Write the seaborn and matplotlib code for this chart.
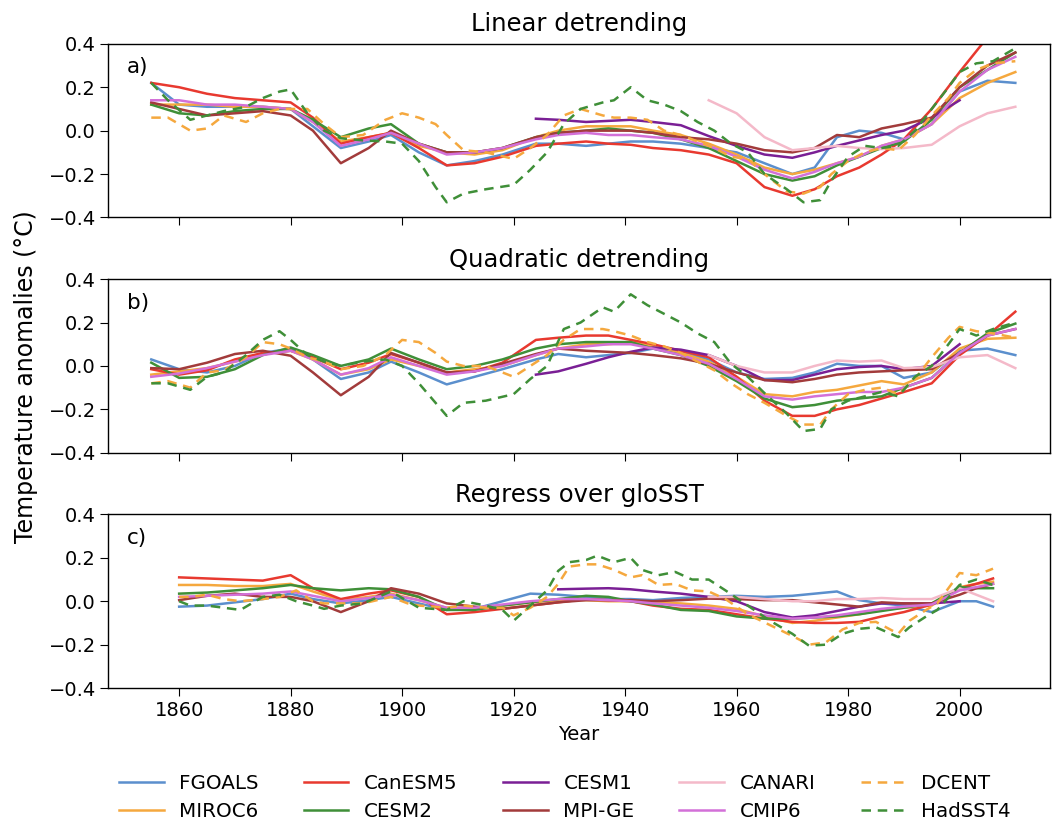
import numpy as np
import pandas as pd
import matplotlib
matplotlib.use("Agg")
import matplotlib.pyplot as plt
import seaborn as sns

nan = np.nan

# -------------------------------
# Years
# -------------------------------
years_ab = [1855, 1860, 1865, 1870, 1875, 1880, 1884, 1889, 1894, 1898,
            1903, 1908, 1913, 1918, 1924, 1928, 1933, 1937, 1941, 1945,
            1950, 1955, 1960, 1965, 1970, 1974, 1978, 1982, 1986, 1990,
            1995, 2000, 2005, 2010]
obs_years_ab = [1855, 1858, 1862, 1865, 1868, 1872, 1875, 1878, 1880, 1883,
                1886, 1889, 1893, 1897, 1900, 1903, 1906, 1908, 1911, 1915,
                1920, 1923, 1926, 1929, 1932, 1936, 1938, 1941, 1944, 1947,
                1950, 1953, 1956, 1959, 1962, 1965, 1969, 1972, 1975, 1977,
                1980, 1983, 1986, 1989, 1992, 1995, 1998, 2000, 2003, 2006,
                2010]
years_c = [1860, 1865, 1870, 1875, 1880, 1884, 1889, 1894, 1898, 1903,
           1908, 1913, 1918, 1923, 1928, 1933, 1937, 1941, 1945, 1950,
           1955, 1960, 1965, 1970, 1974, 1978, 1982, 1986, 1990, 1995,
           2000, 2003, 2006]
obs_years_c = [1860, 1862, 1865, 1868, 1871, 1875, 1878, 1881, 1884, 1886,
               1889, 1893, 1898, 1901, 1903, 1908, 1911, 1915, 1918, 1920,
               1923, 1926, 1928, 1930, 1933, 1935, 1938, 1941, 1943, 1946,
               1949, 1952, 1955, 1958, 1962, 1966, 1970, 1973, 1976, 1979,
               1982, 1985, 1989, 1991, 1994, 1996, 2000, 2003, 2006]

# -------------------------------
# a) Linear detrending
# -------------------------------
a_fgoals = [0.22, 0.12, 0.11, 0.11, 0.11, 0.10, 0.02, -0.08, -0.05, -0.02,
            -0.10, -0.16, -0.14, -0.11, -0.06, -0.06, -0.07, -0.06, -0.05, -0.05,
            -0.06, -0.08, -0.10, -0.15, -0.20, -0.17, -0.03, 0.0, -0.01, -0.04,
            0.03, 0.18, 0.23, 0.22]
a_canesm5 = [0.22, 0.20, 0.17, 0.15, 0.14, 0.13, 0.06, -0.06, -0.03, -0.01,
             -0.08, -0.16, -0.15, -0.12, -0.07, -0.06, -0.05, -0.06, -0.065, -0.08,
             -0.09, -0.11, -0.15, -0.26, -0.30, -0.27, -0.21, -0.17, -0.11, -0.04,
             0.10, 0.27, 0.43, 0.52]
a_cesm1 = [nan] * 14 + [0.055, 0.05, 0.04, 0.045, 0.05, 0.04,
                        0.025, -0.025, -0.07, -0.11, -0.125, -0.10, -0.07, -0.045, -0.02, 0.0,
                        0.06, 0.14, nan, nan]
a_canari = [nan] * 21 + [0.14, 0.08, -0.03, -0.09, -0.08, -0.07, -0.08, -0.085, -0.08,
                         -0.065, 0.02, 0.08, 0.11]
a_miroc6 = [0.12, 0.12, 0.12, 0.11, 0.11, 0.10, 0.04, -0.05, -0.03, -0.01,
            -0.07, -0.10, -0.11, -0.09, -0.03, 0.0, 0.02, 0.02, 0.02, 0.0,
            -0.02, -0.06, -0.11, -0.17, -0.20, -0.18, -0.15, -0.12, -0.07, -0.04,
            0.03, 0.15, 0.22, 0.27]
a_cesm2 = [0.12, 0.08, 0.07, 0.09, 0.10, 0.10, 0.05, -0.03, 0.01, 0.03,
           -0.06, -0.10, -0.10, -0.08, -0.03, -0.01, 0.0, 0.01, 0.0, -0.01,
           -0.04, -0.08, -0.14, -0.20, -0.23, -0.21, -0.16, -0.12, -0.08, -0.05,
           0.05, 0.20, 0.28, 0.36]
a_mpige = [0.13, 0.10, 0.07, 0.08, 0.09, 0.07, 0.0, -0.15, -0.08, 0.0,
           -0.06, -0.10, -0.10, -0.08, -0.03, -0.01, 0.0, 0.0, 0.0, -0.01,
           -0.03, -0.04, -0.06, -0.09, -0.10, -0.08, -0.02, -0.03, 0.01, 0.03,
           0.06, 0.20, 0.30, 0.36]
a_cmip6 = [0.14, 0.14, 0.12, 0.12, 0.11, 0.10, 0.04, -0.07, -0.04, -0.01,
           -0.06, -0.11, -0.10, -0.08, -0.04, -0.02, -0.01, -0.02, -0.02, -0.03,
           -0.04, -0.07, -0.12, -0.18, -0.22, -0.19, -0.15, -0.12, -0.07, -0.04,
           0.03, 0.18, 0.28, 0.34]
a_dcent = [0.06, 0.06, 0.0, 0.01, 0.07, 0.04, 0.08, 0.10, 0.10, 0.10,
           0.03, -0.03, -0.02, 0.05, 0.08, 0.06, 0.03, -0.02, -0.09, -0.10,
           -0.13, -0.08, -0.02, 0.07, 0.10, 0.07, 0.06, 0.06, 0.05, 0.0,
           -0.02, -0.05, -0.08, -0.12, -0.13, -0.20, -0.28, -0.29, -0.26, -0.20,
           -0.14, -0.10, -0.08, -0.09, -0.02, 0.07, 0.15, 0.22, 0.28, 0.31,
           0.32]
a_hadsst4 = [0.22, 0.14, 0.05, 0.07, 0.09, 0.11, 0.15, 0.18, 0.19, 0.08,
             0.0, -0.035, -0.045, -0.05, -0.06, -0.14, -0.26, -0.33, -0.29, -0.27,
             -0.25, -0.18, -0.10, 0.03, 0.10, 0.13, 0.14, 0.20, 0.14, 0.12,
             0.09, 0.04, 0.0, -0.06, -0.10, -0.20, -0.27, -0.33, -0.32, -0.23,
             -0.12, -0.07, -0.08, -0.07, 0.0, 0.10, 0.20, 0.27, 0.31, 0.32,
             0.38]

# -------------------------------
# b) Quadratic detrending
# -------------------------------
b_fgoals = [0.03, -0.015, -0.03, 0.0, 0.06, 0.08, 0.03, -0.06, -0.03, 0.02,
            -0.03, -0.085, -0.05, -0.015, 0.03, 0.055, 0.04, 0.05, 0.06, 0.08,
            0.065, 0.03, -0.03, -0.06, -0.055, -0.03, 0.01, 0.0, 0.0, -0.055,
            -0.03, 0.07, 0.08, 0.05]
b_canesm5 = [-0.015, -0.04, -0.02, 0.03, 0.06, 0.07, 0.04, -0.015, 0.015, 0.055,
             0.015, -0.03, -0.025, 0.015, 0.12, 0.13, 0.14, 0.14, 0.12, 0.10,
             0.07, 0.04, -0.05, -0.16, -0.23, -0.23, -0.20, -0.18, -0.15, -0.12,
             -0.08, 0.05, 0.14, 0.25]
b_cesm1 = [nan] * 14 + [-0.04, -0.025, 0.01, 0.04, 0.065, 0.085,
                        0.075, 0.05, 0.0, -0.065, -0.065, -0.04, -0.015, -0.005, 0.0, -0.015,
                        0.0, 0.10, nan, nan]
b_canari = [nan] * 21 + [0.05, 0.0, -0.03, -0.03, 0.0, 0.025, 0.02, 0.025, -0.01,
                         -0.005, 0.04, 0.05, -0.01]
b_miroc6 = [-0.04, -0.025, -0.01, 0.02, 0.055, 0.07, 0.03, -0.04, -0.015, 0.03,
            0.0, -0.03, -0.015, 0.0, 0.05, 0.08, 0.10, 0.10, 0.11, 0.09,
            0.06, 0.02, -0.05, -0.13, -0.14, -0.12, -0.11, -0.09, -0.07, -0.085,
            -0.03, 0.08, 0.125, 0.13]
b_cesm2 = [0.015, -0.055, -0.05, -0.015, 0.05, 0.085, 0.05, 0.0, 0.03, 0.08,
           0.03, -0.015, 0.0, 0.03, 0.08, 0.10, 0.11, 0.11, 0.11, 0.08,
           0.05, 0.0, -0.07, -0.15, -0.19, -0.18, -0.16, -0.15, -0.14, -0.10,
           -0.055, 0.06, 0.15, 0.195]
b_mpige = [-0.01, -0.015, 0.015, 0.055, 0.07, 0.047, -0.03, -0.135, -0.05, 0.06,
           0.015, -0.03, -0.025, 0.01, 0.055, 0.08, 0.07, 0.065, 0.06, 0.05,
           0.035, 0.01, -0.03, -0.065, -0.075, -0.06, -0.04, -0.03, -0.025, -0.02,
           -0.015, 0.06, 0.14, 0.17]
b_cmip6 = [-0.05, -0.035, -0.01, 0.02, 0.05, 0.07, 0.03, -0.04, -0.01, 0.04,
           0.0, -0.04, -0.025, 0.0, 0.05, 0.08, 0.09, 0.10, 0.10, 0.08,
           0.05, 0.01, -0.06, -0.14, -0.155, -0.14, -0.13, -0.12, -0.12, -0.10,
           -0.055, 0.06, 0.14, 0.17]
b_dcent = [-0.08, -0.07, -0.10, -0.03, -0.02, 0.04, 0.11, 0.10, 0.08, 0.04,
           0.02, -0.015, 0.0, 0.05, 0.12, 0.11, 0.06, 0.02, 0.0, 0.0,
           -0.05, 0.0, 0.05, 0.12, 0.17, 0.17, 0.16, 0.14, 0.11, 0.09,
           0.06, 0.02, -0.02, -0.08, -0.13, -0.17, -0.23, -0.27, -0.27, -0.20,
           -0.13, -0.11, -0.10, -0.13, -0.06, 0.04, 0.13, 0.18, 0.16, 0.15,
           0.13]
b_hadsst4 = [-0.08, -0.08, -0.11, -0.05, -0.03, 0.05, 0.12, 0.16, 0.12, 0.05,
             0.02, 0.0, 0.02, 0.03, 0.0, -0.08, -0.17, -0.23, -0.17, -0.16,
             -0.13, -0.06, 0.0, 0.17, 0.20, 0.27, 0.25, 0.33, 0.28, 0.24,
             0.20, 0.15, 0.11, 0.01, -0.05, -0.125, -0.22, -0.30, -0.29, -0.20,
             -0.16, -0.14, -0.12, -0.14, -0.05, 0.0, 0.10, 0.17, 0.14, 0.17,
             0.20]

# -------------------------------
# c) Regress over gloSST
# -------------------------------
c_fgoals = [-0.025, -0.02, -0.005, 0.01, 0.035, 0.01, -0.01, 0.005, 0.02, -0.01,
            -0.04, -0.035, 0.0, 0.035, 0.03, 0.02, 0.01, 0.01, 0.005, 0.015,
            0.02, 0.025, 0.02, 0.025, 0.035, 0.045, 0.005, -0.01, -0.02, -0.05,
            0.0, 0.0, -0.025]
c_canesm5 = [0.11, 0.105, 0.10, 0.095, 0.12, 0.06, 0.01, 0.035, 0.05, 0.02,
             -0.06, -0.05, -0.035, -0.02, -0.005, 0.01, 0.005, 0.0, -0.02, -0.035,
             -0.04, -0.06, -0.08, -0.095, -0.10, -0.10, -0.095, -0.07, -0.05, -0.015,
             0.06, 0.08, 0.105]
c_cesm1 = [nan] * 14 + [0.055, 0.058, 0.06, 0.055, 0.045, 0.035,
                        0.02, 0.0, -0.05, -0.075, -0.065, -0.045, -0.025, -0.01, -0.01, -0.01,
                        0.0, nan, nan]
c_canari = [nan] * 20 + [0.02, 0.02, 0.01, 0.0, 0.0, 0.01, 0.01, 0.015, 0.01, 0.01,
                         0.06, 0.03, 0.0]
c_miroc6 = [0.075, 0.075, 0.07, 0.07, 0.08, 0.045, 0.005, 0.02, 0.035, 0.005,
            -0.03, -0.03, -0.02, -0.005, 0.005, 0.005, 0.0, 0.0, -0.005, -0.01,
            -0.02, -0.035, -0.07, -0.10, -0.09, -0.075, -0.06, -0.04, -0.03, -0.02,
            0.065, 0.08, 0.09]
c_cesm2 = [0.035, 0.04, 0.05, 0.06, 0.075, 0.06, 0.05, 0.06, 0.055, 0.02,
           -0.04, -0.04, -0.02, -0.005, 0.01, 0.025, 0.02, 0.0, -0.015, -0.04,
           -0.045, -0.07, -0.08, -0.08, -0.075, -0.07, -0.06, -0.045, -0.03, -0.01,
           0.065, 0.06, 0.06]
c_mpige = [0.005, 0.025, 0.035, 0.02, 0.02, 0.0, -0.05, 0.0, 0.06, 0.035,
           -0.01, -0.025, -0.035, -0.02, -0.005, 0.005, 0.005, 0.005, 0.0, 0.005,
           0.012, 0.01, 0.005, 0.005, -0.005, -0.015, -0.025, -0.005, -0.01, -0.01,
           0.03, 0.06, 0.08]
c_cmip6 = [0.02, 0.025, 0.03, 0.035, 0.045, 0.025, 0.0, 0.015, 0.03, 0.005,
           -0.03, -0.03, -0.015, 0.0, 0.01, 0.01, 0.005, 0.0, -0.01, -0.02,
           -0.03, -0.045, -0.065, -0.08, -0.075, -0.065, -0.05, -0.035, -0.025, -0.015,
           0.05, 0.065, 0.08]
c_dcent = [0.02, 0.02, 0.03, 0.01, 0.0, 0.01, 0.02, 0.05, 0.0, -0.01,
           -0.01, -0.01, 0.02, -0.01, -0.02, -0.03, -0.02, -0.03, -0.03, -0.065,
           -0.03, 0.02, 0.08, 0.16, 0.17, 0.17, 0.145, 0.11, 0.12, 0.075,
           0.08, 0.05, 0.045, 0.01, -0.06, -0.11, -0.16, -0.20, -0.19, -0.13,
           -0.10, -0.095, -0.15, -0.09, -0.04, -0.01, 0.13, 0.12, 0.15]
c_hadsst4 = [0.0, -0.02, -0.02, -0.03, -0.04, 0.02, 0.03, 0.0, -0.02, -0.035,
             -0.02, -0.01, 0.045, 0.0, -0.03, -0.04, 0.0, -0.02, -0.04, -0.09,
             -0.02, 0.05, 0.14, 0.18, 0.19, 0.21, 0.18, 0.20, 0.145, 0.12,
             0.135, 0.10, 0.10, 0.05, -0.02, -0.09, -0.15, -0.205, -0.20, -0.15,
             -0.127, -0.12, -0.165, -0.12, -0.07, -0.04, 0.075, 0.10, 0.075]

names = ["FGOALS", "MIROC6", "CanESM5", "CESM2", "CESM1",
         "MPI-GE", "CANARI", "CMIP6", "DCENT", "HadSST4"]
colors = ["#5b8fcd", "#f5a83e", "#e8392f", "#3f8f38", "#7a1f95",
          "#a23b3b", "#f4b9c9", "#d370d8", "#f5a83e", "#3f8f38"]
styles = ["-", "-", "-", "-", "-", "-", "-", "-", "--", "--"]

panels = [
    ("Linear detrending", "a)", years_ab, obs_years_ab,
     [a_fgoals, a_miroc6, a_canesm5, a_cesm2, a_cesm1, a_mpige, a_canari, a_cmip6, a_dcent, a_hadsst4]),
    ("Quadratic detrending", "b)", years_ab, obs_years_ab,
     [b_fgoals, b_miroc6, b_canesm5, b_cesm2, b_cesm1, b_mpige, b_canari, b_cmip6, b_dcent, b_hadsst4]),
    ("Regress over gloSST", "c)", years_c, obs_years_c,
     [c_fgoals, c_miroc6, c_canesm5, c_cesm2, c_cesm1, c_mpige, c_canari, c_cmip6, c_dcent, c_hadsst4]),
]

plt.rcParams["font.size"] = 14
plt.rcParams["axes.linewidth"] = 1.0
plt.rcParams["xtick.major.size"] = 5.5
plt.rcParams["ytick.major.size"] = 5.5

fig, axes = plt.subplots(3, 1, figsize=(10.52, 8.27), dpi=100, sharex=True)
fig.subplots_adjust(left=0.103, right=0.998, top=0.947, bottom=0.168, hspace=0.355)

for ax, (title, tag, yrs, obs_yrs, series) in zip(axes, panels):
    for name, col, ls, vals in zip(names, colors, styles, series):
        x = obs_yrs if ls == "--" else yrs
        df = pd.DataFrame({"Year": x, "Value": vals}).dropna()
        sns.lineplot(data=df, x="Year", y="Value", ax=ax, color=col,
                     linestyle=ls, linewidth=1.8, label=name, errorbar=None)
    # longer dashes for the observational products
    for line in ax.lines:
        if line.get_linestyle() == "--":
            line.set_dashes((3.8, 2.7))
    ax.set_title(title, fontsize=17.5, pad=9)
    ax.text(0.02, 0.865, tag, transform=ax.transAxes, fontsize=15.5, va="center")
    ax.set_ylim(-0.4, 0.4)
    ax.set_yticks([-0.4, -0.2, 0.0, 0.2, 0.4])
    ax.set_ylabel("")
    ax.set_xlabel("")
    if ax.get_legend() is not None:
        ax.get_legend().remove()

axes[0].set_xlim(1847.3, 2016.2)
axes[0].set_xticks(range(1860, 2001, 20))
axes[2].set_xlabel("Year")
fig.text(0.025, 0.545, "Temperature anomalies (°C)", rotation=90,
         ha="center", va="center", fontsize=17)

handles, labels = axes[0].get_legend_handles_labels()
fig.legend(handles, labels, loc="upper center", bbox_to_anchor=(0.537, 0.086),
           ncol=5, frameon=False, fontsize=14.3, columnspacing=2.26,
           handlelength=2.25, handletextpad=0.8, labelspacing=0.45)

fig.savefig("out.png", dpi=100)
